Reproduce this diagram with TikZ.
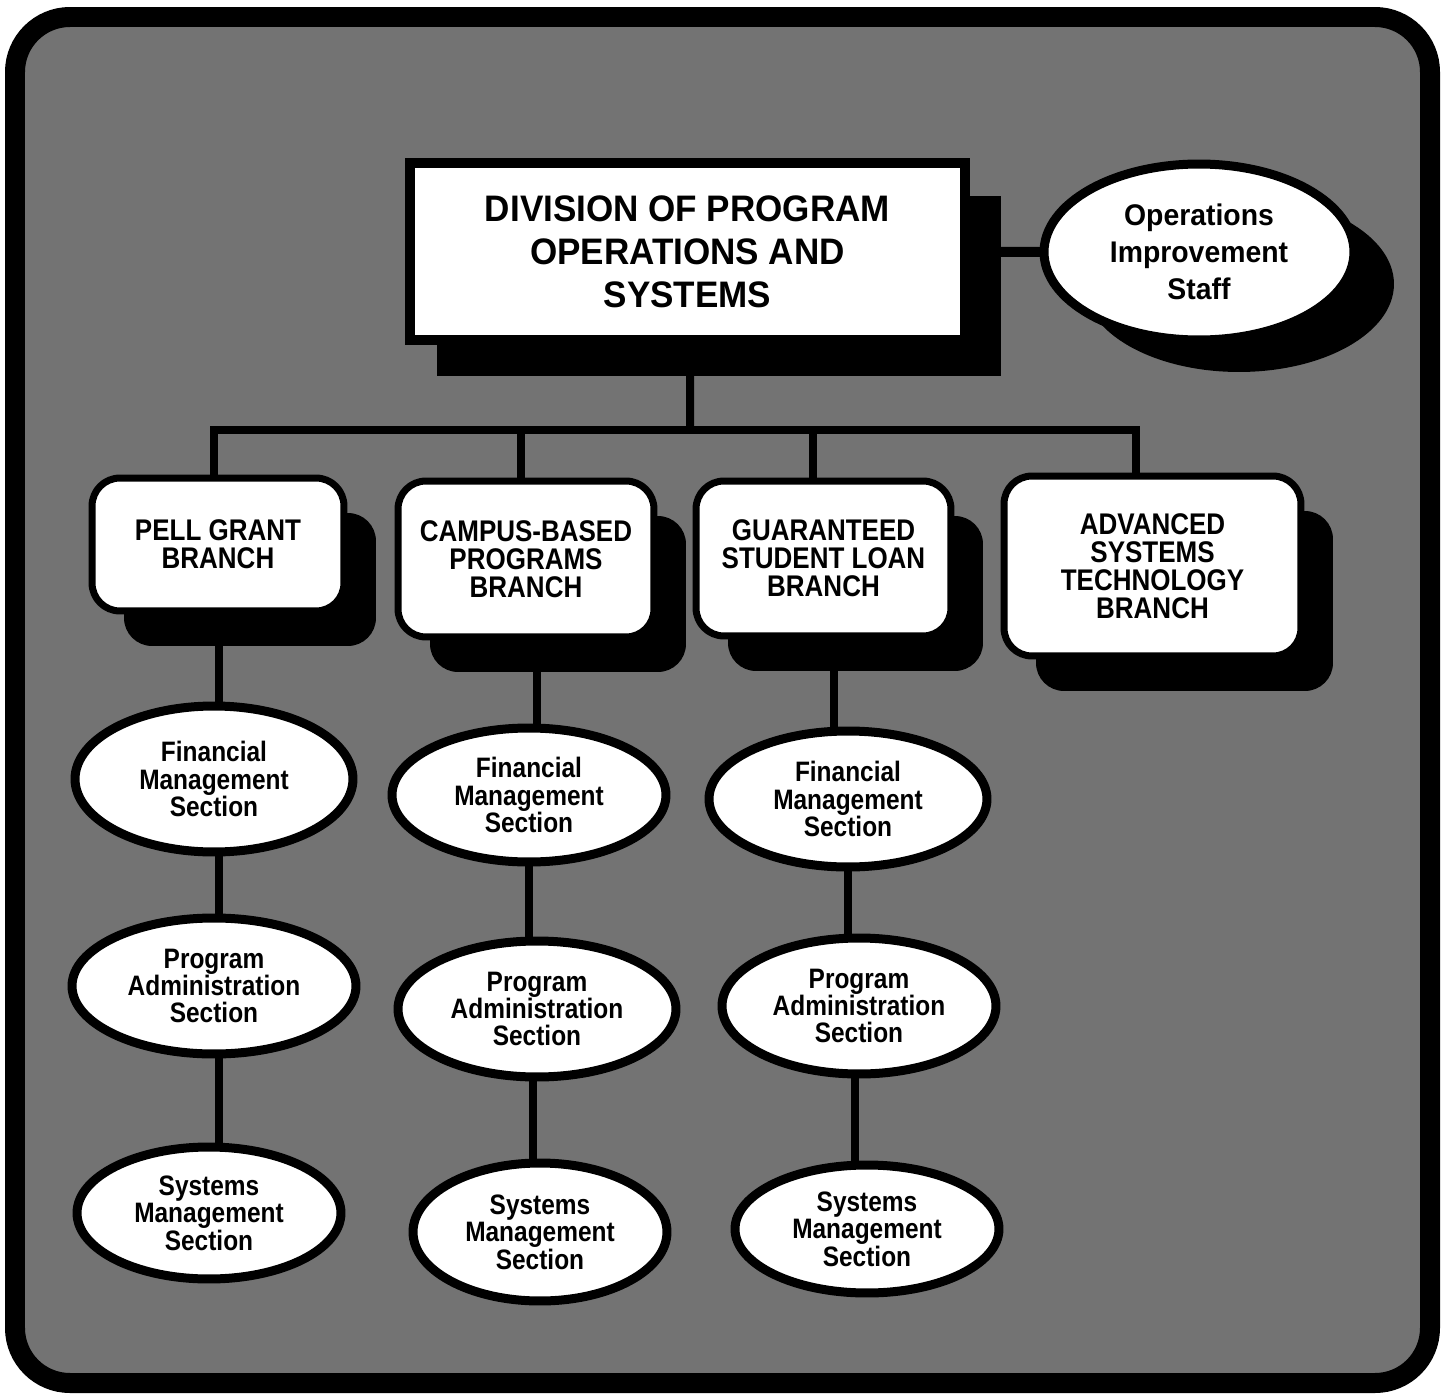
\documentclass[tikz,border=0pt]{standalone}
\usepackage{fontspec}
\newfontfamily\hvc[FakeStretch=0.87]{Liberation Sans}
\newfontfamily\hvn[FakeStretch=0.95]{Liberation Sans}
\usetikzlibrary{shapes.geometric,shadows}
\pgfdeclarelayer{panel}
\pgfdeclarelayer{wires}
\pgfsetlayers{panel,wires,main}
\begin{document}
\begin{tikzpicture}[x=0.02cm,y=-0.02cm,
  wire/.style={line width=0.16cm,draw=black},
  topbox/.style={draw=black,fill=white,line width=0.2cm,inner sep=0pt,align=center,
    font=\hvn\bfseries\fontsize{21}{24.4}\selectfont},
  branch/.style={draw=black,fill=white,line width=0.14cm,rounded corners=0.56cm,inner sep=0pt,align=center,
    font=\hvc\bfseries\fontsize{17}{15.9}\selectfont,
    drop shadow={shadow xshift=0.64cm,shadow yshift=-0.70cm,fill=black,opacity=1}},
  section/.style={ellipse,draw=black,fill=white,line width=0.18cm,inner sep=0pt,align=center,
    font=\hvc\bfseries\fontsize{16}{15.6}\selectfont},
]
\useasboundingbox (0,0) rectangle (1445,1396);
\begin{pgfonlayer}{panel}
  \fill[white] (0,0) rectangle (1445,1396);
  \draw[line width=0.4cm,fill=black!55,rounded corners=1.1cm] (15,17) rectangle (1430,1383);
\end{pgfonlayer}

% top
\node[topbox,minimum width=11.1cm,minimum height=3.54cm,
  drop shadow={shadow xshift=0.62cm,shadow yshift=-0.68cm,shadow scale=1.015,fill=black,opacity=1}]
  (top) at (687.5,251.5) {DIVISION OF PROGRAM\\OPERATIONS AND\\SYSTEMS};
\node[ellipse,draw=black,fill=white,line width=0.18cm,inner sep=0pt,align=center,
  minimum width=6.2cm,minimum height=3.52cm,
  font=\hvn\bfseries\fontsize{17}{21}\selectfont,
  drop shadow={shadow xshift=0.80cm,shadow yshift=-0.64cm,fill=black,opacity=1}]
  (ops) at (1199,252) {Operations\\Improvement\\Staff};

% branches
\node[branch,minimum width=5.04cm,minimum height=2.66cm] (pell) at (218,544.5) {PELL GRANT\\BRANCH};
\node[branch,minimum width=5.12cm,minimum height=3.12cm] (camp) at (526,559) {CAMPUS-BASED\\PROGRAMS\\BRANCH};
\node[branch,minimum width=5.10cm,minimum height=3.10cm] (gsl) at (823.5,558.5) {GUARANTEED\\STUDENT LOAN\\BRANCH};
\node[branch,minimum width=5.94cm,minimum height=3.60cm] (adv) at (1152.5,566) {ADVANCED\\SYSTEMS\\TECHNOLOGY\\BRANCH};

% sections
\node[section,minimum width=5.56cm,minimum height=2.92cm] (pfin) at (214,779) {Financial\\Management\\Section};
\node[section,minimum width=5.68cm,minimum height=2.72cm] (pprog) at (214,986) {Program\\Administration\\Section};
\node[section,minimum width=5.28cm,minimum height=2.64cm] (psys) at (209,1213) {Systems\\Management\\Section};
\node[section,minimum width=5.48cm,minimum height=2.68cm] (cfin) at (529,795) {Financial\\Management\\Section};
\node[section,minimum width=5.56cm,minimum height=2.72cm] (cprog) at (537,1009) {Program\\Administration\\Section};
\node[section,minimum width=5.08cm,minimum height=2.76cm] (csys) at (540,1232) {Systems\\Management\\Section};
\node[section,minimum width=5.56cm,minimum height=2.72cm] (gfin) at (848,799) {Financial\\Management\\Section};
\node[section,minimum width=5.48cm,minimum height=2.72cm] (gprog) at (859,1006) {Program\\Administration\\Section};
\node[section,minimum width=5.28cm,minimum height=2.56cm] (gsys) at (867,1229) {Systems\\Management\\Section};

\coordinate (bus) at (690,430);

\begin{pgfonlayer}{wires}
  \draw[wire,line width=0.2cm] (top.center) -- (ops.center);
  \draw[wire] ([shift={(2.5,0)}]top.center) -- (bus);
  \draw[wire,line join=miter] ([shift={(-4,0)}]pell.center) |- (bus) -| ([shift={(-17,0)}]adv.center);
  \draw[wire] ([shift={(-5,0)}]camp.center) -- ([shift={(-5,0)}]camp.center |- bus);
  \draw[wire] ([shift={(-11,0)}]gsl.center) -- ([shift={(-11,0)}]gsl.center |- bus);
  % Pell column
  \draw[wire] ([shift={(1,0)}]pell.center) -- ([shift={(1,0)}]pell.center |- psys.center);
  % Campus column
  \draw[wire] ([shift={(11,0)}]camp.center) -- ([shift={(11,0)}]camp.center |- cfin.center);
  \draw[wire] (cfin.center) -- (cfin.center |- cprog.center);
  \draw[wire] ([shift={(-4,0)}]cprog.center) -- ([shift={(-4,0)}]cprog.center |- csys.center);
  % GSL column
  \draw[wire] ([shift={(10.5,0)}]gsl.center) -- ([shift={(10.5,0)}]gsl.center |- gfin.center);
  \draw[wire] (gfin.center) -- (gfin.center |- gprog.center);
  \draw[wire] ([shift={(-4,0)}]gprog.center) -- ([shift={(-4,0)}]gprog.center |- gsys.center);
\end{pgfonlayer}
\end{tikzpicture}
\end{document}
